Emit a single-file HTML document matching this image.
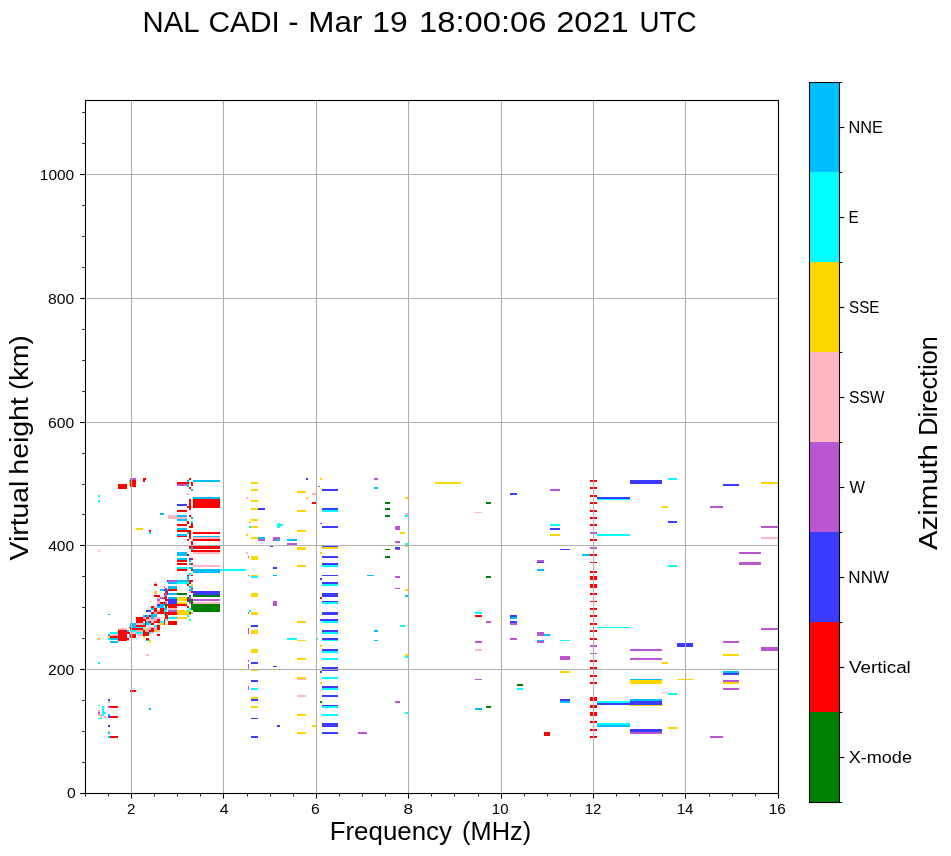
<!DOCTYPE html>
<html><head><meta charset="utf-8"><title>NAL CADI</title>
<style>
html,body{margin:0;padding:0;background:#fff;}
body{width:951px;height:856px;overflow:hidden;position:relative;font-family:"Liberation Sans",sans-serif;}
svg{position:absolute;left:0;top:0;will-change:transform;}
text{font-family:"Liberation Sans",sans-serif;fill:#000;}
</style></head><body>
<svg width="951" height="856" viewBox="0 0 951 856">
<rect x="0" y="0" width="951" height="856" fill="#fff"/>
<g shape-rendering="crispEdges"><rect x="130" y="478" width="6" height="2" fill="#ba55d3"/><rect x="130" y="480" width="6" height="7" fill="#ff0000"/><rect x="129" y="480" width="1" height="2" fill="#00ffff"/><rect x="129" y="482" width="1" height="4" fill="#ffd700"/><rect x="118" y="484" width="9" height="5" fill="#ff0000"/><rect x="143" y="478" width="3" height="2" fill="#ff0000"/><rect x="143" y="480" width="2" height="2" fill="#ff0000"/><rect x="98" y="495" width="2" height="2" fill="#00ffff"/><rect x="98" y="500" width="2" height="2" fill="#00ffff"/><rect x="98" y="550" width="2" height="2" fill="#ffb6c1"/><rect x="136" y="528" width="7" height="2" fill="#ffd700"/><rect x="149" y="530" width="2" height="2" fill="#ff0000"/><rect x="149" y="532" width="2" height="2" fill="#00ffff"/><rect x="160" y="513" width="4" height="2" fill="#00bfff"/><rect x="168" y="515" width="9" height="4" fill="#ffb6c1"/><rect x="177" y="482" width="10" height="2" fill="#ff0000"/><rect x="177" y="484" width="10" height="2" fill="#ba55d3"/><rect x="177" y="504" width="10" height="2" fill="#3b3bff"/><rect x="177" y="510" width="10" height="2" fill="#ff0000"/><rect x="177" y="515" width="10" height="2" fill="#00bfff"/><rect x="177" y="517" width="10" height="2" fill="#ffb6c1"/><rect x="177" y="519" width="10" height="2" fill="#00bfff"/><rect x="177" y="524" width="10" height="2" fill="#ff0000"/><rect x="177" y="528" width="10" height="2" fill="#00bfff"/><rect x="177" y="530" width="10" height="2" fill="#ff0000"/><rect x="177" y="534" width="10" height="2" fill="#00bfff"/><rect x="177" y="536" width="10" height="1" fill="#ff0000"/><rect x="177" y="552" width="10" height="4" fill="#00bfff"/><rect x="177" y="558" width="10" height="2" fill="#00bfff"/><rect x="177" y="560" width="10" height="2" fill="#ff0000"/><rect x="177" y="563" width="10" height="2" fill="#ff0000"/><rect x="177" y="567" width="10" height="2" fill="#00ffff"/><rect x="177" y="569" width="10" height="2" fill="#ff0000"/><rect x="177" y="580" width="10" height="2" fill="#00bfff"/><rect x="177" y="582" width="10" height="2" fill="#00ffff"/><rect x="177" y="593" width="10" height="2" fill="#008000"/><rect x="177" y="597" width="10" height="4" fill="#ffd700"/><rect x="177" y="602" width="10" height="2" fill="#ffd700"/><rect x="177" y="604" width="10" height="2" fill="#ff0000"/><rect x="177" y="610" width="10" height="5" fill="#ffd700"/><rect x="177" y="617" width="10" height="2" fill="#ffd700"/><rect x="187" y="480" width="2" height="2" fill="#00bfff"/><rect x="187" y="482" width="2" height="2" fill="#ff0000"/><rect x="187" y="484" width="2" height="3" fill="#00bfff"/><rect x="187" y="493" width="2" height="2" fill="#ffb6c1"/><rect x="187" y="506" width="2" height="2" fill="#ff0000"/><rect x="187" y="521" width="2" height="3" fill="#ff0000"/><rect x="187" y="530" width="2" height="2" fill="#ff0000"/><rect x="187" y="532" width="2" height="2" fill="#00bfff"/><rect x="187" y="539" width="2" height="2" fill="#ff0000"/><rect x="187" y="554" width="2" height="2" fill="#ff0000"/><rect x="187" y="575" width="2" height="1" fill="#ff0000"/><rect x="187" y="576" width="2" height="6" fill="#00bfff"/><rect x="187" y="582" width="2" height="2" fill="#00ffff"/><rect x="187" y="584" width="2" height="2" fill="#ff0000"/><rect x="187" y="597" width="2" height="2" fill="#008000"/><rect x="187" y="599" width="2" height="2" fill="#ff0000"/><rect x="187" y="601" width="2" height="1" fill="#008000"/><rect x="187" y="606" width="2" height="2" fill="#ff0000"/><rect x="187" y="610" width="2" height="2" fill="#00ffff"/><rect x="187" y="612" width="2" height="3" fill="#ffd700"/><rect x="187" y="615" width="2" height="2" fill="#00ffff"/><rect x="189" y="478" width="2" height="2" fill="#ff0000"/><rect x="189" y="487" width="2" height="2" fill="#ff0000"/><rect x="189" y="499" width="2" height="11" fill="#ff0000"/><rect x="189" y="515" width="2" height="2" fill="#ff0000"/><rect x="189" y="526" width="2" height="2" fill="#ff0000"/><rect x="189" y="530" width="2" height="9" fill="#ff0000"/><rect x="189" y="546" width="2" height="3" fill="#ff0000"/><rect x="189" y="558" width="2" height="2" fill="#3b3bff"/><rect x="189" y="560" width="2" height="2" fill="#00bfff"/><rect x="189" y="563" width="2" height="2" fill="#00bfff"/><rect x="189" y="567" width="2" height="2" fill="#00bfff"/><rect x="189" y="573" width="2" height="3" fill="#00ffff"/><rect x="189" y="580" width="2" height="2" fill="#ff0000"/><rect x="189" y="582" width="2" height="2" fill="#ff0000"/><rect x="189" y="586" width="2" height="2" fill="#00bfff"/><rect x="189" y="589" width="2" height="2" fill="#00bfff"/><rect x="189" y="591" width="2" height="2" fill="#ffb6c1"/><rect x="189" y="595" width="2" height="2" fill="#3b3bff"/><rect x="189" y="597" width="2" height="2" fill="#ba55d3"/><rect x="189" y="599" width="2" height="2" fill="#3b3bff"/><rect x="189" y="601" width="2" height="1" fill="#008000"/><rect x="189" y="602" width="2" height="2" fill="#ba55d3"/><rect x="189" y="608" width="2" height="2" fill="#00ffff"/><rect x="189" y="610" width="2" height="2" fill="#ffd700"/><rect x="189" y="612" width="2" height="2" fill="#008000"/><rect x="189" y="614" width="2" height="1" fill="#ffd700"/><rect x="189" y="619" width="2" height="2" fill="#00ffff"/><rect x="191" y="482" width="2" height="4" fill="#ff0000"/><rect x="191" y="489" width="2" height="2" fill="#00bfff"/><rect x="191" y="517" width="2" height="2" fill="#00bfff"/><rect x="191" y="521" width="2" height="2" fill="#00ffff"/><rect x="191" y="523" width="2" height="5" fill="#ff0000"/><rect x="191" y="541" width="2" height="4" fill="#ff0000"/><rect x="191" y="546" width="2" height="1" fill="#ff0000"/><rect x="191" y="547" width="2" height="3" fill="#00bfff"/><rect x="191" y="550" width="2" height="2" fill="#ff0000"/><rect x="191" y="558" width="2" height="2" fill="#ff0000"/><rect x="191" y="563" width="2" height="2" fill="#ff0000"/><rect x="191" y="567" width="2" height="2" fill="#00bfff"/><rect x="191" y="569" width="2" height="2" fill="#ff0000"/><rect x="191" y="573" width="2" height="2" fill="#ffb6c1"/><rect x="191" y="575" width="2" height="1" fill="#ff0000"/><rect x="191" y="580" width="2" height="2" fill="#ff0000"/><rect x="191" y="584" width="2" height="2" fill="#ffd700"/><rect x="191" y="586" width="2" height="2" fill="#00ffff"/><rect x="191" y="588" width="2" height="1" fill="#ff0000"/><rect x="191" y="589" width="2" height="2" fill="#00bfff"/><rect x="191" y="591" width="2" height="2" fill="#ff0000"/><rect x="191" y="597" width="2" height="2" fill="#ffb6c1"/><rect x="191" y="599" width="2" height="11" fill="#008000"/><rect x="191" y="612" width="2" height="2" fill="#ffb6c1"/><rect x="193" y="480" width="27" height="2" fill="#00bfff"/><rect x="193" y="497" width="27" height="2" fill="#00bfff"/><rect x="193" y="499" width="27" height="9" fill="#ff0000"/><rect x="193" y="532" width="27" height="2" fill="#ff0000"/><rect x="193" y="536" width="27" height="1" fill="#00bfff"/><rect x="193" y="537" width="27" height="2" fill="#ffb6c1"/><rect x="193" y="539" width="27" height="2" fill="#ff0000"/><rect x="193" y="546" width="27" height="3" fill="#ff0000"/><rect x="193" y="550" width="27" height="2" fill="#ff0000"/><rect x="193" y="552" width="27" height="2" fill="#ffb6c1"/><rect x="193" y="565" width="27" height="2" fill="#ffb6c1"/><rect x="193" y="569" width="27" height="4" fill="#00bfff"/><rect x="193" y="591" width="27" height="4" fill="#3b3bff"/><rect x="193" y="595" width="27" height="2" fill="#008000"/><rect x="193" y="599" width="27" height="2" fill="#ba55d3"/><rect x="193" y="602" width="27" height="2" fill="#ffb6c1"/><rect x="193" y="604" width="27" height="8" fill="#008000"/><rect x="220" y="569" width="26" height="2" fill="#00ffff"/><rect x="167" y="580" width="1" height="2" fill="#3b3bff"/><rect x="168" y="580" width="9" height="2" fill="#ba55d3"/><rect x="168" y="582" width="9" height="2" fill="#00bfff"/><rect x="154" y="582" width="3" height="2" fill="#ffb6c1"/><rect x="154" y="584" width="3" height="2" fill="#ff0000"/><rect x="164" y="586" width="1" height="2" fill="#ba55d3"/><rect x="168" y="586" width="9" height="3" fill="#00bfff"/><rect x="165" y="588" width="2" height="1" fill="#ba55d3"/><rect x="160" y="589" width="4" height="2" fill="#00bfff"/><rect x="164" y="589" width="1" height="2" fill="#ff0000"/><rect x="165" y="589" width="2" height="4" fill="#3b3bff"/><rect x="167" y="589" width="1" height="2" fill="#00bfff"/><rect x="168" y="589" width="9" height="2" fill="#ff0000"/><rect x="154" y="591" width="3" height="2" fill="#ffd700"/><rect x="167" y="591" width="1" height="4" fill="#ff0000"/><rect x="154" y="593" width="3" height="2" fill="#ffb6c1"/><rect x="164" y="593" width="1" height="2" fill="#ff0000"/><rect x="165" y="593" width="2" height="4" fill="#ba55d3"/><rect x="168" y="593" width="9" height="2" fill="#00bfff"/><rect x="154" y="595" width="6" height="2" fill="#ff0000"/><rect x="164" y="595" width="1" height="2" fill="#00bfff"/><rect x="157" y="597" width="3" height="2" fill="#ffb6c1"/><rect x="160" y="597" width="4" height="2" fill="#ba55d3"/><rect x="164" y="597" width="3" height="2" fill="#ff0000"/><rect x="168" y="597" width="9" height="2" fill="#00bfff"/><rect x="157" y="599" width="3" height="2" fill="#ba55d3"/><rect x="165" y="599" width="3" height="2" fill="#ff0000"/><rect x="168" y="599" width="9" height="5" fill="#3b3bff"/><rect x="149" y="601" width="2" height="1" fill="#ffb6c1"/><rect x="157" y="601" width="3" height="3" fill="#ffb6c1"/><rect x="164" y="601" width="1" height="1" fill="#00bfff"/><rect x="165" y="601" width="2" height="1" fill="#ffb6c1"/><rect x="160" y="602" width="5" height="2" fill="#ff0000"/><rect x="165" y="602" width="2" height="2" fill="#ba55d3"/><rect x="157" y="604" width="3" height="2" fill="#3b3bff"/><rect x="160" y="604" width="5" height="2" fill="#00bfff"/><rect x="165" y="604" width="2" height="4" fill="#008000"/><rect x="167" y="604" width="10" height="2" fill="#ff0000"/><rect x="151" y="606" width="3" height="2" fill="#ff0000"/><rect x="154" y="606" width="3" height="2" fill="#ffb6c1"/><rect x="157" y="606" width="7" height="2" fill="#00bfff"/><rect x="168" y="606" width="9" height="2" fill="#ff0000"/><rect x="151" y="608" width="3" height="2" fill="#00bfff"/><rect x="154" y="608" width="3" height="4" fill="#ff0000"/><rect x="160" y="608" width="4" height="6" fill="#ff0000"/><rect x="164" y="608" width="3" height="2" fill="#00bfff"/><rect x="168" y="608" width="9" height="2" fill="#ffb6c1"/><rect x="146" y="610" width="5" height="2" fill="#3b3bff"/><rect x="157" y="610" width="3" height="2" fill="#ffb6c1"/><rect x="164" y="610" width="3" height="2" fill="#00ffff"/><rect x="168" y="610" width="9" height="2" fill="#ba55d3"/><rect x="151" y="612" width="3" height="3" fill="#ff0000"/><rect x="154" y="612" width="3" height="2" fill="#ffb6c1"/><rect x="157" y="612" width="3" height="2" fill="#ff0000"/><rect x="164" y="612" width="1" height="3" fill="#00bfff"/><rect x="165" y="612" width="2" height="7" fill="#ff0000"/><rect x="168" y="612" width="9" height="3" fill="#ff0000"/><rect x="143" y="615" width="2" height="2" fill="#00bfff"/><rect x="145" y="615" width="1" height="2" fill="#3b3bff"/><rect x="146" y="615" width="3" height="2" fill="#00bfff"/><rect x="149" y="615" width="2" height="2" fill="#ff0000"/><rect x="151" y="614" width="6" height="3" fill="#00bfff"/><rect x="167" y="612" width="1" height="2" fill="#ff0000"/><rect x="167" y="614" width="1" height="1" fill="#00ffff"/><rect x="167" y="615" width="1" height="4" fill="#ff0000"/><rect x="136" y="617" width="7" height="6" fill="#ff0000"/><rect x="143" y="617" width="3" height="2" fill="#ffb6c1"/><rect x="146" y="617" width="3" height="2" fill="#ff0000"/><rect x="149" y="617" width="2" height="2" fill="#ffb6c1"/><rect x="151" y="617" width="3" height="2" fill="#00bfff"/><rect x="154" y="617" width="6" height="2" fill="#ffb6c1"/><rect x="168" y="617" width="9" height="2" fill="#00ffff"/><rect x="143" y="619" width="3" height="2" fill="#ff0000"/><rect x="146" y="619" width="11" height="2" fill="#ffb6c1"/><rect x="157" y="619" width="3" height="4" fill="#ff0000"/><rect x="164" y="619" width="1" height="6" fill="#ff0000"/><rect x="165" y="619" width="2" height="2" fill="#ffb6c1"/><rect x="167" y="619" width="1" height="2" fill="#00ffff"/><rect x="146" y="621" width="3" height="4" fill="#00bfff"/><rect x="149" y="621" width="2" height="2" fill="#ff0000"/><rect x="151" y="621" width="3" height="2" fill="#ffb6c1"/><rect x="154" y="621" width="3" height="2" fill="#ff0000"/><rect x="160" y="621" width="4" height="2" fill="#00ffff"/><rect x="168" y="621" width="9" height="4" fill="#ff0000"/><rect x="130" y="623" width="6" height="5" fill="#00bfff"/><rect x="136" y="623" width="7" height="2" fill="#ffb6c1"/><rect x="143" y="623" width="2" height="2" fill="#00ffff"/><rect x="145" y="621" width="1" height="4" fill="#ff0000"/><rect x="149" y="623" width="2" height="2" fill="#00ffff"/><rect x="151" y="623" width="3" height="2" fill="#ff0000"/><rect x="157" y="623" width="3" height="2" fill="#ffb6c1"/><rect x="160" y="623" width="4" height="2" fill="#ffd700"/><rect x="136" y="625" width="10" height="2" fill="#ff0000"/><rect x="154" y="625" width="3" height="2" fill="#00ffff"/><rect x="157" y="625" width="3" height="5" fill="#ff0000"/><rect x="129" y="627" width="1" height="1" fill="#ff0000"/><rect x="136" y="627" width="7" height="1" fill="#00ffff"/><rect x="143" y="627" width="2" height="1" fill="#ffb6c1"/><rect x="149" y="627" width="8" height="1" fill="#ffb6c1"/><rect x="143" y="628" width="2" height="2" fill="#ffb6c1"/><rect x="145" y="628" width="1" height="4" fill="#ffd700"/><rect x="146" y="628" width="3" height="4" fill="#ffb6c1"/><rect x="149" y="628" width="2" height="2" fill="#ffb6c1"/><rect x="151" y="628" width="3" height="4" fill="#ff0000"/><rect x="154" y="628" width="3" height="2" fill="#ffb6c1"/><rect x="143" y="630" width="2" height="2" fill="#ff0000"/><rect x="149" y="630" width="2" height="2" fill="#ff0000"/><rect x="154" y="630" width="3" height="2" fill="#ffd700"/><rect x="157" y="630" width="3" height="2" fill="#ffb6c1"/><rect x="143" y="632" width="2" height="2" fill="#ff0000"/><rect x="145" y="632" width="4" height="4" fill="#ff0000"/><rect x="149" y="632" width="2" height="2" fill="#00ffff"/><rect x="151" y="632" width="3" height="2" fill="#ffb6c1"/><rect x="143" y="634" width="2" height="2" fill="#ff0000"/><rect x="157" y="634" width="3" height="2" fill="#ff0000"/><rect x="143" y="636" width="2" height="2" fill="#ffd700"/><rect x="146" y="638" width="3" height="2" fill="#ff0000"/><rect x="146" y="640" width="3" height="1" fill="#00bfff"/><rect x="149" y="640" width="2" height="3" fill="#ffd700"/><rect x="146" y="654" width="3" height="2" fill="#ffb6c1"/><rect x="98" y="638" width="2" height="2" fill="#ffd700"/><rect x="98" y="662" width="2" height="2" fill="#00ffff"/><rect x="110" y="632" width="8" height="2" fill="#00ffff"/><rect x="108" y="634" width="2" height="2" fill="#00bfff"/><rect x="110" y="634" width="8" height="2" fill="#ffb6c1"/><rect x="108" y="636" width="2" height="2" fill="#ffd700"/><rect x="110" y="636" width="8" height="2" fill="#ff0000"/><rect x="108" y="638" width="2" height="2" fill="#00ffff"/><rect x="110" y="638" width="8" height="2" fill="#00bfff"/><rect x="110" y="641" width="8" height="2" fill="#00bfff"/><rect x="118" y="628" width="9" height="2" fill="#ffb6c1"/><rect x="118" y="630" width="9" height="11" fill="#ff0000"/><rect x="127" y="630" width="2" height="2" fill="#00bfff"/><rect x="127" y="632" width="3" height="2" fill="#ff0000"/><rect x="129" y="634" width="1" height="4" fill="#00ffff"/><rect x="127" y="636" width="2" height="2" fill="#ffb6c1"/><rect x="127" y="638" width="2" height="2" fill="#ff0000"/><rect x="128" y="640" width="2" height="1" fill="#ffb6c1"/><rect x="130" y="628" width="1" height="2" fill="#ff0000"/><rect x="130" y="630" width="1" height="2" fill="#00ffff"/><rect x="130" y="634" width="1" height="4" fill="#ff0000"/><rect x="129" y="647" width="1" height="2" fill="#ffb6c1"/><rect x="132" y="628" width="11" height="2" fill="#ff0000"/><rect x="132" y="630" width="4" height="2" fill="#00ffff"/><rect x="136" y="630" width="7" height="2" fill="#ffb6c1"/><rect x="132" y="632" width="4" height="2" fill="#ffb6c1"/><rect x="136" y="632" width="7" height="2" fill="#00ffff"/><rect x="132" y="634" width="4" height="4" fill="#ff0000"/><rect x="137" y="634" width="6" height="2" fill="#ffb6c1"/><rect x="130" y="690" width="6" height="2" fill="#ff0000"/><rect x="108" y="699" width="2" height="2" fill="#3b3bff"/><rect x="108" y="701" width="2" height="2" fill="#ffb6c1"/><rect x="98" y="705" width="2" height="1" fill="#00ffff"/><rect x="108" y="706" width="2" height="2" fill="#ba55d3"/><rect x="110" y="706" width="8" height="2" fill="#ff0000"/><rect x="102" y="706" width="2" height="10" fill="#00ffff"/><rect x="104" y="712" width="2" height="2" fill="#00ffff"/><rect x="98" y="710" width="2" height="2" fill="#ffb6c1"/><rect x="98" y="712" width="2" height="2" fill="#ba55d3"/><rect x="98" y="714" width="4" height="2" fill="#ffb6c1"/><rect x="100" y="716" width="2" height="2" fill="#ffb6c1"/><rect x="98" y="718" width="4" height="1" fill="#00ffff"/><rect x="104" y="716" width="2" height="2" fill="#ffb6c1"/><rect x="108" y="714" width="2" height="2" fill="#00bfff"/><rect x="108" y="716" width="2" height="2" fill="#3b3bff"/><rect x="110" y="716" width="8" height="2" fill="#ff0000"/><rect x="149" y="708" width="2" height="2" fill="#00bfff"/><rect x="108" y="725" width="2" height="2" fill="#3b3bff"/><rect x="108" y="731" width="2" height="1" fill="#ffd700"/><rect x="108" y="732" width="2" height="2" fill="#00bfff"/><rect x="108" y="736" width="2" height="2" fill="#00bfff"/><rect x="110" y="736" width="8" height="2" fill="#ff0000"/><rect x="108" y="614" width="2" height="1" fill="#00bfff"/><rect x="251" y="482" width="7" height="2" fill="#ffd700"/><rect x="251" y="489" width="7" height="2" fill="#ffd700"/><rect x="251" y="500" width="7" height="2" fill="#ffd700"/><rect x="251" y="508" width="7" height="2" fill="#ffd700"/><rect x="251" y="519" width="7" height="2" fill="#ffd700"/><rect x="251" y="526" width="7" height="2" fill="#ffd700"/><rect x="251" y="537" width="7" height="2" fill="#ffd700"/><rect x="251" y="556" width="7" height="4" fill="#ffd700"/><rect x="251" y="575" width="7" height="1" fill="#ffd700"/><rect x="251" y="576" width="7" height="2" fill="#00ffff"/><rect x="251" y="593" width="7" height="4" fill="#ffd700"/><rect x="251" y="612" width="7" height="3" fill="#ffd700"/><rect x="251" y="625" width="7" height="2" fill="#3b3bff"/><rect x="251" y="630" width="7" height="4" fill="#ffd700"/><rect x="251" y="649" width="7" height="4" fill="#ffd700"/><rect x="251" y="662" width="7" height="2" fill="#3b3bff"/><rect x="251" y="670" width="7" height="1" fill="#ffd700"/><rect x="251" y="680" width="7" height="2" fill="#3b3bff"/><rect x="251" y="688" width="7" height="2" fill="#00ffff"/><rect x="251" y="697" width="7" height="2" fill="#ffd700"/><rect x="251" y="699" width="7" height="2" fill="#3b3bff"/><rect x="251" y="706" width="7" height="2" fill="#ffd700"/><rect x="251" y="718" width="7" height="1" fill="#3b3bff"/><rect x="251" y="736" width="7" height="2" fill="#3b3bff"/><rect x="258" y="508" width="7" height="2" fill="#3b3bff"/><rect x="258" y="537" width="7" height="2" fill="#00bfff"/><rect x="258" y="539" width="7" height="2" fill="#ba55d3"/><rect x="246" y="497" width="2" height="2" fill="#ffb6c1"/><rect x="246" y="534" width="2" height="2" fill="#ffd700"/><rect x="246" y="552" width="2" height="2" fill="#ffb6c1"/><rect x="249" y="521" width="2" height="2" fill="#ffd700"/><rect x="249" y="526" width="2" height="2" fill="#00ffff"/><rect x="249" y="610" width="2" height="2" fill="#00ffff"/><rect x="248" y="556" width="1" height="2" fill="#ba55d3"/><rect x="248" y="575" width="1" height="1" fill="#ba55d3"/><rect x="248" y="612" width="1" height="2" fill="#ba55d3"/><rect x="248" y="628" width="1" height="6" fill="#ba55d3"/><rect x="248" y="660" width="1" height="2" fill="#ba55d3"/><rect x="248" y="664" width="1" height="5" fill="#ba55d3"/><rect x="248" y="686" width="1" height="4" fill="#ba55d3"/><rect x="273" y="537" width="7" height="4" fill="#ba55d3"/><rect x="277" y="539" width="3" height="2" fill="#00bfff"/><rect x="277" y="523" width="3" height="5" fill="#00ffff"/><rect x="280" y="524" width="3" height="2" fill="#00ffff"/><rect x="270" y="546" width="3" height="1" fill="#3b3bff"/><rect x="277" y="725" width="3" height="2" fill="#3b3bff"/><rect x="318" y="486" width="2" height="1" fill="#ba55d3"/><rect x="317" y="638" width="1" height="2" fill="#00ffff"/><rect x="287" y="539" width="10" height="2" fill="#00bfff"/><rect x="287" y="543" width="10" height="2" fill="#ba55d3"/><rect x="287" y="638" width="10" height="2" fill="#00ffff"/><rect x="273" y="567" width="4" height="2" fill="#3b3bff"/><rect x="273" y="575" width="4" height="1" fill="#00bfff"/><rect x="273" y="601" width="4" height="5" fill="#ba55d3"/><rect x="273" y="666" width="4" height="1" fill="#3b3bff"/><rect x="297" y="491" width="9" height="2" fill="#ffd700"/><rect x="297" y="510" width="9" height="2" fill="#ffd700"/><rect x="297" y="530" width="9" height="2" fill="#ffd700"/><rect x="297" y="547" width="9" height="3" fill="#ffd700"/><rect x="297" y="565" width="9" height="2" fill="#ffd700"/><rect x="297" y="621" width="9" height="2" fill="#ffd700"/><rect x="297" y="640" width="9" height="1" fill="#ffd700"/><rect x="297" y="658" width="9" height="2" fill="#ffd700"/><rect x="297" y="677" width="9" height="2" fill="#ffd700"/><rect x="297" y="679" width="9" height="1" fill="#ffb6c1"/><rect x="297" y="695" width="9" height="2" fill="#ffb6c1"/><rect x="297" y="714" width="9" height="2" fill="#ffd700"/><rect x="297" y="732" width="9" height="2" fill="#ffd700"/><rect x="306" y="478" width="2" height="2" fill="#3b3bff"/><rect x="306" y="497" width="2" height="2" fill="#ffd700"/><rect x="312" y="493" width="4" height="2" fill="#ffb6c1"/><rect x="312" y="502" width="4" height="2" fill="#ff0000"/><rect x="312" y="725" width="4" height="2" fill="#ffd700"/><rect x="320" y="478" width="2" height="2" fill="#ffd700"/><rect x="320" y="523" width="2" height="1" fill="#ba55d3"/><rect x="320" y="552" width="2" height="2" fill="#ffd700"/><rect x="320" y="578" width="2" height="2" fill="#3b3bff"/><rect x="320" y="597" width="2" height="2" fill="#ff0000"/><rect x="320" y="619" width="2" height="2" fill="#3b3bff"/><rect x="320" y="645" width="2" height="2" fill="#ffd700"/><rect x="320" y="671" width="2" height="2" fill="#3b3bff"/><rect x="320" y="682" width="2" height="2" fill="#ffd700"/><rect x="320" y="701" width="2" height="2" fill="#008000"/><rect x="322" y="489" width="16" height="2" fill="#3b3bff"/><rect x="322" y="508" width="16" height="2" fill="#3b3bff"/><rect x="322" y="510" width="16" height="2" fill="#00ffff"/><rect x="322" y="526" width="16" height="2" fill="#3b3bff"/><rect x="322" y="546" width="16" height="1" fill="#3b3bff"/><rect x="322" y="547" width="16" height="2" fill="#ffd700"/><rect x="322" y="556" width="16" height="2" fill="#3b3bff"/><rect x="322" y="563" width="16" height="2" fill="#3b3bff"/><rect x="322" y="565" width="16" height="2" fill="#00ffff"/><rect x="322" y="575" width="16" height="1" fill="#3b3bff"/><rect x="322" y="582" width="16" height="2" fill="#3b3bff"/><rect x="322" y="584" width="16" height="2" fill="#00ffff"/><rect x="322" y="593" width="16" height="4" fill="#3b3bff"/><rect x="322" y="601" width="16" height="1" fill="#3b3bff"/><rect x="322" y="602" width="16" height="2" fill="#00ffff"/><rect x="322" y="612" width="16" height="3" fill="#3b3bff"/><rect x="322" y="619" width="16" height="2" fill="#3b3bff"/><rect x="322" y="621" width="16" height="2" fill="#00ffff"/><rect x="322" y="630" width="16" height="2" fill="#3b3bff"/><rect x="322" y="632" width="16" height="2" fill="#00ffff"/><rect x="322" y="638" width="16" height="2" fill="#3b3bff"/><rect x="322" y="640" width="16" height="1" fill="#00ffff"/><rect x="322" y="649" width="16" height="2" fill="#3b3bff"/><rect x="322" y="651" width="16" height="2" fill="#00ffff"/><rect x="322" y="658" width="16" height="2" fill="#00ffff"/><rect x="322" y="667" width="16" height="4" fill="#3b3bff"/><rect x="322" y="677" width="16" height="2" fill="#00ffff"/><rect x="322" y="686" width="16" height="2" fill="#3b3bff"/><rect x="322" y="688" width="16" height="2" fill="#00ffff"/><rect x="322" y="695" width="16" height="2" fill="#3b3bff"/><rect x="322" y="705" width="16" height="1" fill="#3b3bff"/><rect x="322" y="706" width="16" height="2" fill="#00ffff"/><rect x="322" y="714" width="16" height="2" fill="#00ffff"/><rect x="322" y="723" width="16" height="4" fill="#3b3bff"/><rect x="322" y="732" width="16" height="2" fill="#3b3bff"/><rect x="374" y="478" width="4" height="2" fill="#ba55d3"/><rect x="374" y="487" width="4" height="2" fill="#00bfff"/><rect x="400" y="532" width="5" height="2" fill="#ffd700"/><rect x="400" y="625" width="5" height="2" fill="#00ffff"/><rect x="435" y="482" width="26" height="2" fill="#ffd700"/><rect x="367" y="575" width="7" height="1" fill="#00bfff"/><rect x="374" y="630" width="4" height="2" fill="#00bfff"/><rect x="374" y="640" width="4" height="1" fill="#00bfff"/><rect x="358" y="732" width="9" height="2" fill="#ba55d3"/><rect x="385" y="502" width="5" height="2" fill="#008000"/><rect x="385" y="508" width="5" height="2" fill="#008000"/><rect x="385" y="515" width="5" height="2" fill="#008000"/><rect x="385" y="549" width="5" height="1" fill="#008000"/><rect x="385" y="556" width="5" height="2" fill="#008000"/><rect x="395" y="526" width="5" height="4" fill="#ba55d3"/><rect x="395" y="541" width="5" height="2" fill="#ba55d3"/><rect x="395" y="547" width="5" height="2" fill="#3b3bff"/><rect x="395" y="549" width="5" height="1" fill="#ba55d3"/><rect x="395" y="576" width="5" height="2" fill="#ba55d3"/><rect x="395" y="588" width="5" height="1" fill="#ba55d3"/><rect x="395" y="701" width="5" height="2" fill="#ba55d3"/><rect x="405" y="497" width="3" height="2" fill="#ffd700"/><rect x="405" y="513" width="3" height="2" fill="#ffb6c1"/><rect x="405" y="515" width="3" height="2" fill="#00ffff"/><rect x="405" y="543" width="3" height="2" fill="#00ffff"/><rect x="405" y="546" width="3" height="1" fill="#ffd700"/><rect x="405" y="589" width="3" height="2" fill="#ffd700"/><rect x="405" y="595" width="3" height="2" fill="#00bfff"/><rect x="405" y="654" width="3" height="2" fill="#ffd700"/><rect x="405" y="656" width="3" height="2" fill="#00ffff"/><rect x="405" y="712" width="3" height="2" fill="#00ffff"/><rect x="486" y="502" width="5" height="2" fill="#008000"/><rect x="486" y="576" width="5" height="2" fill="#008000"/><rect x="486" y="621" width="5" height="2" fill="#ba55d3"/><rect x="486" y="706" width="5" height="2" fill="#008000"/><rect x="475" y="512" width="7" height="1" fill="#ffb6c1"/><rect x="475" y="612" width="7" height="2" fill="#00ffff"/><rect x="475" y="615" width="7" height="2" fill="#ff0000"/><rect x="475" y="641" width="7" height="2" fill="#ba55d3"/><rect x="475" y="649" width="7" height="2" fill="#ffb6c1"/><rect x="475" y="679" width="7" height="1" fill="#ba55d3"/><rect x="475" y="708" width="7" height="2" fill="#00bfff"/><rect x="510" y="493" width="7" height="2" fill="#3b3bff"/><rect x="510" y="615" width="7" height="2" fill="#3b3bff"/><rect x="510" y="617" width="7" height="2" fill="#00bfff"/><rect x="510" y="621" width="7" height="2" fill="#3b3bff"/><rect x="510" y="623" width="7" height="2" fill="#ba55d3"/><rect x="510" y="638" width="7" height="2" fill="#ba55d3"/><rect x="517" y="684" width="6" height="2" fill="#008000"/><rect x="517" y="688" width="6" height="2" fill="#00ffff"/><rect x="537" y="560" width="7" height="2" fill="#ba55d3"/><rect x="537" y="562" width="7" height="1" fill="#3b3bff"/><rect x="537" y="569" width="7" height="2" fill="#00bfff"/><rect x="537" y="632" width="7" height="4" fill="#ba55d3"/><rect x="537" y="640" width="7" height="1" fill="#00bfff"/><rect x="537" y="641" width="7" height="2" fill="#ba55d3"/><rect x="544" y="634" width="6" height="2" fill="#00bfff"/><rect x="544" y="732" width="6" height="4" fill="#ff0000"/><rect x="582" y="554" width="8" height="2" fill="#00bfff"/><rect x="550" y="489" width="10" height="2" fill="#ba55d3"/><rect x="550" y="524" width="10" height="2" fill="#00ffff"/><rect x="550" y="528" width="10" height="2" fill="#3b3bff"/><rect x="550" y="534" width="10" height="2" fill="#ffd700"/><rect x="560" y="549" width="10" height="1" fill="#3b3bff"/><rect x="560" y="640" width="10" height="1" fill="#00ffff"/><rect x="560" y="656" width="10" height="4" fill="#ba55d3"/><rect x="560" y="671" width="10" height="2" fill="#ffd700"/><rect x="560" y="699" width="10" height="2" fill="#3b3bff"/><rect x="560" y="701" width="10" height="2" fill="#00bfff"/><rect x="590" y="480" width="7" height="2" fill="#ff0000"/><rect x="590" y="487" width="7" height="2" fill="#ff0000"/><rect x="590" y="495" width="7" height="2" fill="#ff0000"/><rect x="590" y="502" width="7" height="2" fill="#ff0000"/><rect x="590" y="510" width="7" height="2" fill="#ff0000"/><rect x="590" y="517" width="7" height="2" fill="#ff0000"/><rect x="590" y="524" width="7" height="2" fill="#ff0000"/><rect x="590" y="532" width="7" height="2" fill="#ba55d3"/><rect x="590" y="539" width="7" height="2" fill="#ff0000"/><rect x="590" y="547" width="7" height="2" fill="#ba55d3"/><rect x="590" y="554" width="7" height="2" fill="#ff0000"/><rect x="590" y="562" width="7" height="1" fill="#ff0000"/><rect x="590" y="571" width="7" height="2" fill="#ff0000"/><rect x="590" y="576" width="7" height="4" fill="#ff0000"/><rect x="590" y="584" width="7" height="4" fill="#ff0000"/><rect x="590" y="593" width="7" height="2" fill="#ff0000"/><rect x="590" y="601" width="7" height="1" fill="#ff0000"/><rect x="590" y="608" width="7" height="2" fill="#ff0000"/><rect x="590" y="615" width="7" height="2" fill="#ff0000"/><rect x="590" y="623" width="7" height="2" fill="#ff0000"/><rect x="590" y="630" width="7" height="2" fill="#ff0000"/><rect x="590" y="638" width="7" height="2" fill="#ff0000"/><rect x="590" y="645" width="7" height="2" fill="#ba55d3"/><rect x="590" y="653" width="7" height="1" fill="#ba55d3"/><rect x="590" y="660" width="7" height="2" fill="#ff0000"/><rect x="590" y="667" width="7" height="2" fill="#ff0000"/><rect x="590" y="675" width="7" height="2" fill="#ff0000"/><rect x="590" y="682" width="7" height="2" fill="#ff0000"/><rect x="590" y="697" width="7" height="4" fill="#ff0000"/><rect x="590" y="705" width="7" height="3" fill="#ff0000"/><rect x="590" y="712" width="7" height="4" fill="#ff0000"/><rect x="590" y="721" width="7" height="2" fill="#ff0000"/><rect x="590" y="729" width="7" height="2" fill="#ff0000"/><rect x="590" y="736" width="7" height="2" fill="#ff0000"/><rect x="597" y="497" width="33" height="2" fill="#3b3bff"/><rect x="597" y="499" width="33" height="1" fill="#00ffff"/><rect x="597" y="534" width="33" height="2" fill="#00ffff"/><rect x="597" y="627" width="33" height="1" fill="#00ffff"/><rect x="597" y="701" width="33" height="2" fill="#00ffff"/><rect x="597" y="703" width="33" height="2" fill="#3b3bff"/><rect x="597" y="723" width="33" height="2" fill="#00ffff"/><rect x="597" y="725" width="33" height="2" fill="#00bfff"/><rect x="630" y="480" width="32" height="4" fill="#3b3bff"/><rect x="630" y="649" width="32" height="2" fill="#ba55d3"/><rect x="630" y="658" width="32" height="2" fill="#ba55d3"/><rect x="630" y="679" width="32" height="1" fill="#00bfff"/><rect x="630" y="680" width="32" height="4" fill="#ffd700"/><rect x="630" y="699" width="32" height="2" fill="#00bfff"/><rect x="630" y="701" width="32" height="4" fill="#3b3bff"/><rect x="630" y="705" width="32" height="1" fill="#ffd700"/><rect x="630" y="729" width="32" height="3" fill="#3b3bff"/><rect x="630" y="732" width="32" height="2" fill="#ba55d3"/><rect x="662" y="506" width="6" height="2" fill="#ffd700"/><rect x="662" y="662" width="6" height="2" fill="#ffd700"/><rect x="662" y="692" width="6" height="1" fill="#ffb6c1"/><rect x="668" y="478" width="9" height="2" fill="#00ffff"/><rect x="668" y="521" width="9" height="2" fill="#3b3bff"/><rect x="668" y="565" width="9" height="2" fill="#00ffff"/><rect x="668" y="693" width="9" height="2" fill="#00ffff"/><rect x="668" y="727" width="9" height="2" fill="#ffd700"/><rect x="677" y="643" width="16" height="4" fill="#3b3bff"/><rect x="677" y="679" width="16" height="1" fill="#ffd700"/><rect x="723" y="484" width="16" height="2" fill="#3b3bff"/><rect x="761" y="482" width="17" height="2" fill="#ffd700"/><rect x="710" y="506" width="13" height="2" fill="#ba55d3"/><rect x="761" y="526" width="17" height="2" fill="#ba55d3"/><rect x="761" y="537" width="17" height="2" fill="#ffb6c1"/><rect x="739" y="552" width="22" height="2" fill="#ba55d3"/><rect x="739" y="562" width="22" height="3" fill="#ba55d3"/><rect x="761" y="628" width="17" height="2" fill="#ba55d3"/><rect x="761" y="647" width="17" height="4" fill="#ba55d3"/><rect x="710" y="736" width="13" height="2" fill="#ba55d3"/><rect x="723" y="641" width="16" height="2" fill="#ba55d3"/><rect x="723" y="654" width="16" height="2" fill="#ffd700"/><rect x="723" y="671" width="16" height="2" fill="#00bfff"/><rect x="723" y="673" width="16" height="2" fill="#3b3bff"/><rect x="723" y="680" width="16" height="2" fill="#ba55d3"/><rect x="723" y="682" width="16" height="2" fill="#ffd700"/><rect x="723" y="688" width="16" height="2" fill="#ba55d3"/></g>
<g stroke="#b0b0b0" stroke-width="1.1"><line x1="131.50" y1="100.50" x2="131.50" y2="793.50"/><line x1="223.50" y1="100.50" x2="223.50" y2="793.50"/><line x1="316.50" y1="100.50" x2="316.50" y2="793.50"/><line x1="408.50" y1="100.50" x2="408.50" y2="793.50"/><line x1="501.50" y1="100.50" x2="501.50" y2="793.50"/><line x1="593.50" y1="100.50" x2="593.50" y2="793.50"/><line x1="685.50" y1="100.50" x2="685.50" y2="793.50"/><line x1="778.50" y1="100.50" x2="778.50" y2="793.50"/><line x1="85.50" y1="793.50" x2="778.50" y2="793.50"/><line x1="85.50" y1="669.50" x2="778.50" y2="669.50"/><line x1="85.50" y1="545.50" x2="778.50" y2="545.50"/><line x1="85.50" y1="422.50" x2="778.50" y2="422.50"/><line x1="85.50" y1="298.50" x2="778.50" y2="298.50"/><line x1="85.50" y1="174.50" x2="778.50" y2="174.50"/></g>
<g stroke="#000" stroke-width="1.1"><line x1="131.50" y1="793.40" x2="131.50" y2="798.60"/><line x1="223.50" y1="793.40" x2="223.50" y2="798.60"/><line x1="316.50" y1="793.40" x2="316.50" y2="798.60"/><line x1="408.50" y1="793.40" x2="408.50" y2="798.60"/><line x1="501.50" y1="793.40" x2="501.50" y2="798.60"/><line x1="593.50" y1="793.40" x2="593.50" y2="798.60"/><line x1="685.50" y1="793.40" x2="685.50" y2="798.60"/><line x1="778.50" y1="793.40" x2="778.50" y2="798.60"/><line x1="85.30" y1="793.50" x2="80.10" y2="793.50"/><line x1="85.30" y1="669.50" x2="80.10" y2="669.50"/><line x1="85.30" y1="545.50" x2="80.10" y2="545.50"/><line x1="85.30" y1="422.50" x2="80.10" y2="422.50"/><line x1="85.30" y1="298.50" x2="80.10" y2="298.50"/><line x1="85.30" y1="174.50" x2="80.10" y2="174.50"/></g>
<g stroke="#000" stroke-width="0.85"><line x1="85.50" y1="793.40" x2="85.50" y2="796.50"/><line x1="108.50" y1="793.40" x2="108.50" y2="796.50"/><line x1="154.50" y1="793.40" x2="154.50" y2="796.50"/><line x1="177.50" y1="793.40" x2="177.50" y2="796.50"/><line x1="200.50" y1="793.40" x2="200.50" y2="796.50"/><line x1="247.50" y1="793.40" x2="247.50" y2="796.50"/><line x1="270.50" y1="793.40" x2="270.50" y2="796.50"/><line x1="293.50" y1="793.40" x2="293.50" y2="796.50"/><line x1="339.50" y1="793.40" x2="339.50" y2="796.50"/><line x1="362.50" y1="793.40" x2="362.50" y2="796.50"/><line x1="385.50" y1="793.40" x2="385.50" y2="796.50"/><line x1="431.50" y1="793.40" x2="431.50" y2="796.50"/><line x1="454.50" y1="793.40" x2="454.50" y2="796.50"/><line x1="478.50" y1="793.40" x2="478.50" y2="796.50"/><line x1="524.50" y1="793.40" x2="524.50" y2="796.50"/><line x1="547.50" y1="793.40" x2="547.50" y2="796.50"/><line x1="570.50" y1="793.40" x2="570.50" y2="796.50"/><line x1="616.50" y1="793.40" x2="616.50" y2="796.50"/><line x1="639.50" y1="793.40" x2="639.50" y2="796.50"/><line x1="662.50" y1="793.40" x2="662.50" y2="796.50"/><line x1="709.50" y1="793.40" x2="709.50" y2="796.50"/><line x1="732.50" y1="793.40" x2="732.50" y2="796.50"/><line x1="755.50" y1="793.40" x2="755.50" y2="796.50"/><line x1="85.30" y1="762.50" x2="82.20" y2="762.50"/><line x1="85.30" y1="731.50" x2="82.20" y2="731.50"/><line x1="85.30" y1="700.50" x2="82.20" y2="700.50"/><line x1="85.30" y1="638.50" x2="82.20" y2="638.50"/><line x1="85.30" y1="607.50" x2="82.20" y2="607.50"/><line x1="85.30" y1="576.50" x2="82.20" y2="576.50"/><line x1="85.30" y1="514.50" x2="82.20" y2="514.50"/><line x1="85.30" y1="484.50" x2="82.20" y2="484.50"/><line x1="85.30" y1="453.50" x2="82.20" y2="453.50"/><line x1="85.30" y1="391.50" x2="82.20" y2="391.50"/><line x1="85.30" y1="360.50" x2="82.20" y2="360.50"/><line x1="85.30" y1="329.50" x2="82.20" y2="329.50"/><line x1="85.30" y1="267.50" x2="82.20" y2="267.50"/><line x1="85.30" y1="236.50" x2="82.20" y2="236.50"/><line x1="85.30" y1="205.50" x2="82.20" y2="205.50"/><line x1="85.30" y1="143.50" x2="82.20" y2="143.50"/><line x1="85.30" y1="112.50" x2="82.20" y2="112.50"/></g>
<rect x="85.50" y="100.50" width="693.00" height="693.00" fill="none" stroke="#000" stroke-width="1.1"/>
<text transform="translate(142.60,31.50) scale(1.0041,1)" font-size="29.2">NAL</text>
<text transform="translate(208.44,31.50) scale(1.0227,1)" font-size="29.2">CADI</text>
<text transform="translate(288.26,31.50) scale(1.0637,1)" font-size="29.2">-</text>
<text transform="translate(308.36,31.50) scale(1.0753,1)" font-size="29.2">Mar</text>
<text transform="translate(372.21,31.50) scale(1.0889,1)" font-size="29.2">19</text>
<text transform="translate(419.04,31.50) scale(1.1214,1)" font-size="29.2">18:00:06</text>
<text transform="translate(556.13,31.50) scale(1.1168,1)" font-size="29.2">2021</text>
<text transform="translate(639.43,31.50) scale(0.9511,1)" font-size="29.2">UTC</text>
<text transform="translate(329.64,840.40) scale(1.0164,1)" font-size="25.5">Frequency</text>
<text transform="translate(462.08,840.40) scale(0.9957,1)" font-size="25.5">(MHz)</text>
<text transform="translate(28.30,560.42) rotate(-90) scale(1.1109,1)" font-size="25.5">Virtual</text>
<text transform="translate(28.30,474.67) rotate(-90) scale(1.1144,1)" font-size="25.5">height</text>
<text transform="translate(28.30,389.94) rotate(-90) scale(1.0722,1)" font-size="25.5">(km)</text>
<text transform="translate(937.10,549.97) rotate(-90) scale(1.1499,1)" font-size="25.5">Azimuth</text>
<text transform="translate(937.10,435.71) rotate(-90) scale(0.9881,1)" font-size="25.5">Direction</text>
<text transform="translate(127.04,814.00) scale(1.0600,1)" font-size="14.25">2</text>
<text transform="translate(219.77,814.00) scale(1.1256,1)" font-size="14.25">4</text>
<text transform="translate(310.98,814.00) scale(1.1034,1)" font-size="14.25">6</text>
<text transform="translate(403.57,814.00) scale(1.2121,1)" font-size="14.25">8</text>
<text transform="translate(491.85,814.00) scale(1.0520,1)" font-size="14.25">10</text>
<text transform="translate(584.65,814.00) scale(1.0540,1)" font-size="14.25">12</text>
<text transform="translate(676.75,814.00) scale(1.0558,1)" font-size="14.25">14</text>
<text transform="translate(768.83,814.00) scale(1.0722,1)" font-size="14.25">16</text>
<text transform="translate(48.01,675.10) scale(1.1052,1)" font-size="14.25">200</text>
<text transform="translate(48.18,551.10) scale(1.0979,1)" font-size="14.25">400</text>
<text transform="translate(48.08,428.10) scale(1.1021,1)" font-size="14.25">600</text>
<text transform="translate(48.05,304.10) scale(1.1035,1)" font-size="14.25">800</text>
<text transform="translate(39.82,180.10) scale(1.0844,1)" font-size="14.25">1000</text>
<text transform="translate(67.03,797.90) scale(1.1046,1)" font-size="14.25">0</text>
<text transform="translate(848.42,133.10) scale(0.9409,1)" font-size="17.4">NNE</text>
<text transform="translate(848.49,223.10) scale(0.8915,1)" font-size="17.4">E</text>
<text transform="translate(849.06,313.10) scale(0.8685,1)" font-size="17.4">SSE</text>
<text transform="translate(849.03,403.10) scale(0.8971,1)" font-size="17.4">SSW</text>
<text transform="translate(849.53,493.10) scale(0.9417,1)" font-size="17.4">W</text>
<text transform="translate(848.36,583.10) scale(0.9785,1)" font-size="17.4">NNW</text>
<text transform="translate(849.02,673.10) scale(1.0842,1)" font-size="17.4">Vertical</text>
<text transform="translate(848.63,763.10) scale(1.0400,1)" font-size="17.4">X-mode</text>
<g shape-rendering="crispEdges"><rect x="809.4" y="82.00" width="30.00" height="90.50" fill="#00bfff"/><rect x="809.4" y="172.00" width="30.00" height="90.50" fill="#00ffff"/><rect x="809.4" y="262.00" width="30.00" height="90.50" fill="#ffd700"/><rect x="809.4" y="352.00" width="30.00" height="90.50" fill="#ffb6c1"/><rect x="809.4" y="442.00" width="30.00" height="90.50" fill="#ba55d3"/><rect x="809.4" y="532.00" width="30.00" height="90.50" fill="#3b3bff"/><rect x="809.4" y="622.00" width="30.00" height="90.50" fill="#ff0000"/><rect x="809.4" y="712.00" width="30.00" height="90.50" fill="#008000"/></g>
<rect x="809.5" y="82.5" width="30.00" height="720.00" fill="none" stroke="#000" stroke-width="1.1"/>
<g stroke="#000" stroke-width="1.1"><line x1="839.5" y1="82.50" x2="842.30" y2="82.50"/><line x1="839.5" y1="172.50" x2="842.30" y2="172.50"/><line x1="839.5" y1="262.50" x2="842.30" y2="262.50"/><line x1="839.5" y1="352.50" x2="842.30" y2="352.50"/><line x1="839.5" y1="442.50" x2="842.30" y2="442.50"/><line x1="839.5" y1="532.50" x2="842.30" y2="532.50"/><line x1="839.5" y1="622.50" x2="842.30" y2="622.50"/><line x1="839.5" y1="712.50" x2="842.30" y2="712.50"/><line x1="839.5" y1="802.50" x2="842.30" y2="802.50"/><line x1="839.5" y1="127.50" x2="844.40" y2="127.50"/><line x1="839.5" y1="217.50" x2="844.40" y2="217.50"/><line x1="839.5" y1="307.50" x2="844.40" y2="307.50"/><line x1="839.5" y1="397.50" x2="844.40" y2="397.50"/><line x1="839.5" y1="487.50" x2="844.40" y2="487.50"/><line x1="839.5" y1="577.50" x2="844.40" y2="577.50"/><line x1="839.5" y1="667.50" x2="844.40" y2="667.50"/><line x1="839.5" y1="757.50" x2="844.40" y2="757.50"/></g>
</svg></body></html>
